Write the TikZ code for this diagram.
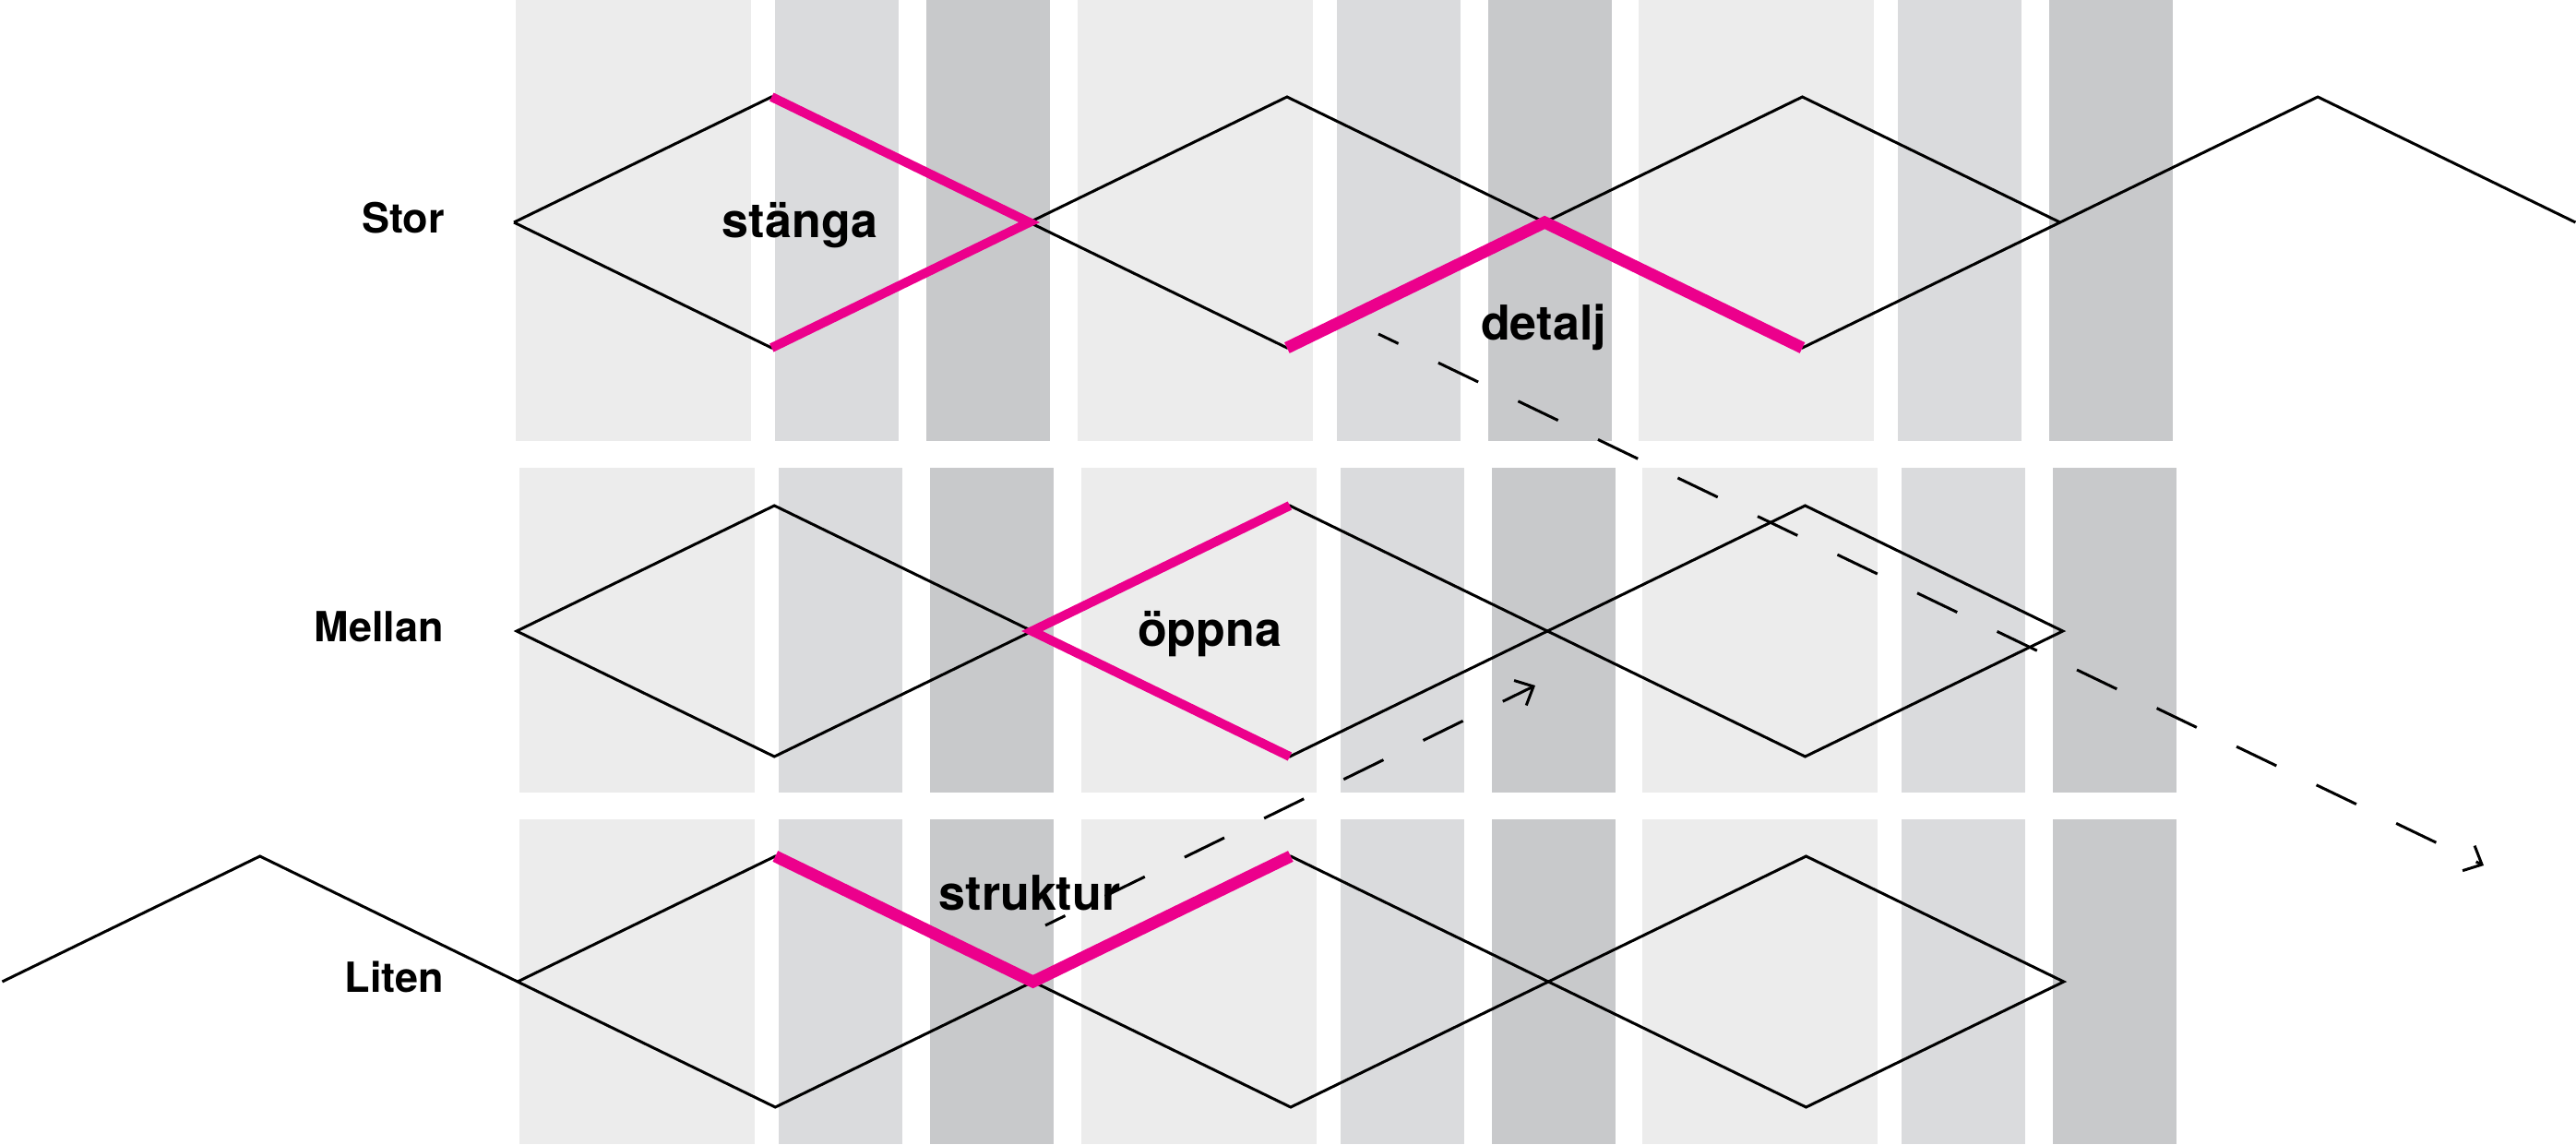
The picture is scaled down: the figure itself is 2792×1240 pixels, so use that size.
\documentclass[tikz,border=0pt]{standalone}
\usepackage{fontspec}
\setmainfont{TeX Gyre Heros}
\usetikzlibrary{arrows.meta,positioning}

\definecolor{panel}{HTML}{ECECEC}
\definecolor{panelmid}{HTML}{DADBDD}
\definecolor{paneldark}{HTML}{C8C9CB}
\definecolor{rosa}{HTML}{EC008C}

\begin{document}
\begin{tikzpicture}[
  x=1pt, y=-1pt,
  wave/.style={draw, line width=3pt, line join=miter},
  hilite/.style={draw=rosa, line width=10pt},
  hilitebold/.style={hilite, line width=13pt},
  arr/.style={line width=3pt, dash pattern=on 48pt off 48pt, dash phase=24pt,
    -{Straight Barb[length=16pt, width=30pt, line width=3pt]}},
  rowlabel/.style={font=\fontsize{45}{54}\selectfont\bfseries, anchor=base east, inner sep=0pt},
  actlabel/.style={font=\fontsize{52}{62}\selectfont\bfseries, anchor=base, inner sep=0pt}
]
\useasboundingbox (0,0) rectangle (2792,1240);

% grey bands, three rows
\foreach \dx/\ytop/\ybot in {0/0/478, 4/507/859, 4/888/1240} {
  \foreach \g in {0,608.5,1217} {
    \fill[panel] (559+\dx+\g,\ytop) rectangle (814+\dx+\g,\ybot);
    \fill[panelmid] (840+\dx+\g,\ytop) rectangle (974+\dx+\g,\ybot);
    \fill[paneldark] (1004+\dx+\g,\ytop) rectangle (1138+\dx+\g,\ybot);
  }
}

% vertices: m = middle, t = top, b = bottom
\foreach \r/\yc/\xo in {1/241/557, 2/684/560, 3/1064/561} {
  \foreach \k in {-2,...,8} {
    \coordinate (r\r-m\k) at (\xo+279.3*\k,\yc);
    \coordinate (r\r-t\k) at (\xo+279.3*\k,\yc-136);
    \coordinate (r\r-b\k) at (\xo+279.3*\k,\yc+136);
  }
}

% Stor
\draw[wave] (r1-m0) -- (r1-t1) -- (r1-m2) -- (r1-b3) -- (r1-m4) -- (r1-t5) -- (r1-m6) -- (r1-t7) -- (r1-m8);
\draw[wave] (r1-m0) -- (r1-b1) -- (r1-m2) -- (r1-t3) -- (r1-m4) -- (r1-b5) -- (r1-m6);
% Mellan
\draw[wave] (r2-m0) -- (r2-t1) -- (r2-m2) -- (r2-b3) -- (r2-m4) -- (r2-t5) -- (r2-m6)
  -- (r2-b5) -- (r2-m4) -- (r2-t3) -- (r2-m2) -- (r2-b1) -- cycle;
% Liten
\draw[wave] (r3-m-2) -- (r3-t-1) -- (r3-m0) -- (r3-b1) -- (r3-m2) -- (r3-t3) -- (r3-m4) -- (r3-b5) -- (r3-m6)
  -- (r3-t5) -- (r3-m4) -- (r3-b3) -- (r3-m2) -- (r3-t1) -- (r3-m0);

\draw[hilite] (r1-t1) -- (r1-m2) -- (r1-b1);
\draw[hilitebold] (r1-b3) -- (r1-m4) -- (r1-b5);
\draw[hilite] (r2-t3) -- (r2-m2) -- (r2-b3);
\draw[hilitebold] (r3-t1) -- (r3-m2) -- (r3-t3);

\node[rowlabel] (stor) at (482,252) {Stor};
\node[rowlabel] (mellan) at (481,695) {Mellan};
\node[rowlabel] (liten) at (481,1075) {Liten};

\node[actlabel] (stanga) at (867,257) {stänga};
\node[actlabel] (detalj) at (1673,368) {detalj};
\node[actlabel] (oppna) at (1311,700) {öppna};
\node[actlabel] (struktur) at (1116,986) {struktur};

\coordinate (detalj-from) at (1494,362);
\coordinate (detalj-to) at (2692,938);
\coordinate (struktur-from) at (1133,1003);
\coordinate (struktur-to) at (1664,743);
\draw[arr] (detalj-from) -- (detalj-to);
\draw[arr] (struktur-from) -- (struktur-to);
\end{tikzpicture}
\end{document}
